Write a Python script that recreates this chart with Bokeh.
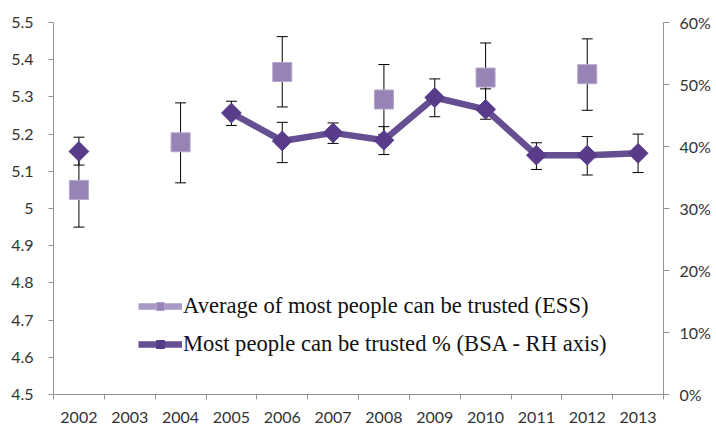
import math

from bokeh.embed import file_html
from bokeh.models import (ColumnDataSource, FixedTicker, Legend, LegendItem,
                          LinearAxis, Range1d, TeeHead, Whisker)
from bokeh.plotting import figure
from bokeh.resources import INLINE

nan = float("nan")

# Survey years (one category per year)
years = ["2002", "2003", "2004", "2005", "2006", "2007",
         "2008", "2009", "2010", "2011", "2012", "2013"]

# ESS: average score "most people can be trusted" (left axis) with CI bounds
ess_mean = [5.05, nan, 5.178, nan, 5.367, nan, 5.293, nan, 5.352, nan, 5.361, nan]
ess_low = [4.95, nan, 5.069, nan, 5.273, nan, 5.199, nan, 5.259, nan, 5.264, nan]
ess_high = [5.15, nan, 5.284, nan, 5.462, nan, 5.387, nan, 5.445, nan, 5.456, nan]

# BSA: % saying most people can be trusted (right axis) with CI bounds
bsa_pct = [39.2, nan, nan, 45.4, 40.9, 42.2, 41.0, 47.9, 46.0, 38.6, 38.6, 38.9]
bsa_low = [37.0, nan, nan, 43.4, 37.4, 40.5, 38.7, 44.8, 44.4, 36.3, 35.4, 35.8]
bsa_high = [41.5, nan, nan, 47.3, 43.9, 43.8, 43.2, 50.9, 49.3, 40.6, 41.6, 42.0]

left_ticks = [4.5, 4.6, 4.7, 4.8, 4.9, 5.0, 5.1, 5.2, 5.3, 5.4, 5.5]
left_labels = ["4.5", "4.6", "4.7", "4.8", "4.9", "5", "5.1", "5.2", "5.3", "5.4", "5.5"]
right_ticks = [0, 10, 20, 30, 40, 50, 60]
right_labels = ["0%", "10%", "20%", "30%", "40%", "50%", "60%"]

ess_label = "Average of most people can be trusted (ESS)"
bsa_label = "Most people can be trusted % (BSA - RH axis)"

# each year occupies one unit; points sit in the middle of their slot
x_pos = [i + 0.5 for i in range(len(years))]
slot_edges = list(range(len(years) + 1))

GRID = "#949494"
TICK_TEXT = "#333333"
ESS_FILL = "#9783b6"
ESS_EDGE = "#b4a5cd"
BSA_LINE = "#654f92"
BSA_MARK = "#583b89"
TICK_FONT = "Lato"
LEGEND_FONT = "Liberation Serif"

p = figure(width=716, height=425, output_backend="svg", toolbar_location=None,
           x_range=Range1d(0, len(years)), y_range=Range1d(4.5, 5.5),
           min_border_left=53, min_border_right=53, min_border_top=22,
           min_border_bottom=30, x_axis_type=None, y_axis_type=None)
p.extra_y_ranges = {"pct": Range1d(0, 60)}
p.outline_line_color = None
p.background_fill_color = "white"
p.border_fill_color = "white"

# left axis
yax = LinearAxis(ticker=FixedTicker(ticks=left_ticks),
                 major_label_overrides=dict(zip(left_ticks, left_labels)))
yax.axis_line_color = GRID
yax.major_tick_line_color = GRID
yax.major_tick_out = 5
yax.major_tick_in = 0
yax.minor_tick_line_color = None
yax.major_label_standoff = 15
yax.major_label_text_font = TICK_FONT
yax.major_label_text_font_size = "16px"
yax.major_label_text_color = TICK_TEXT
p.add_layout(yax, "left")

# right axis (percentages)
rax = LinearAxis(y_range_name="pct", ticker=FixedTicker(ticks=right_ticks),
                 major_label_overrides=dict(zip(right_ticks, right_labels)))
rax.axis_line_color = GRID
rax.major_tick_line_color = GRID
rax.major_tick_out = 6
rax.major_tick_in = 0
rax.minor_tick_line_color = None
rax.major_label_standoff = 10
rax.major_label_text_font = TICK_FONT
rax.major_label_text_font_size = "16px"
rax.major_label_text_color = TICK_TEXT
p.add_layout(rax, "right")

# bottom axis: labels centred on each year, tick marks between years
xax = LinearAxis(ticker=FixedTicker(ticks=x_pos, minor_ticks=slot_edges),
                 major_label_overrides=dict(zip(x_pos, years)))
xax.axis_line_color = GRID
xax.major_tick_line_color = None
xax.major_tick_out = 0
xax.major_tick_in = 0
xax.minor_tick_line_color = GRID
xax.minor_tick_out = 5
xax.minor_tick_in = 0
xax.major_label_standoff = 12
xax.major_label_text_font = TICK_FONT
xax.major_label_text_font_size = "16px"
xax.major_label_text_color = TICK_TEXT
p.add_layout(xax, "below")

p.ygrid.ticker = FixedTicker(ticks=left_ticks)
p.ygrid.grid_line_color = GRID
p.ygrid.grid_line_width = 1
p.xgrid.visible = False

# error bars
def ci_source(lo, hi):
    rows = [(x, a, b) for x, a, b in zip(x_pos, lo, hi) if not math.isnan(a)]
    return ColumnDataSource(dict(x=[r[0] for r in rows],
                                 lo=[r[1] for r in rows],
                                 hi=[r[2] for r in rows]))

for lo, hi, rng in ((ess_low, ess_high, "default"), (bsa_low, bsa_high, "pct")):
    w = Whisker(base="x", lower="lo", upper="hi", source=ci_source(lo, hi),
                y_range_name=rng, line_color="black", line_width=1,
                upper_head=TeeHead(size=11, line_color="black", line_width=1),
                lower_head=TeeHead(size=11, line_color="black", line_width=1))
    p.add_layout(w)

# BSA series (right axis)
bsa_line = p.line(x_pos, bsa_pct, y_range_name="pct", line_color=BSA_LINE,
                  line_width=6.5, line_join="round")
bsa_marks = p.scatter(x_pos, bsa_pct, y_range_name="pct", marker="square",
                      angle=math.pi / 4, size=14, fill_color=BSA_MARK,
                      line_color=BSA_MARK, line_width=1)

# ESS series (left axis), markers only
ess_marks = p.scatter(x_pos, ess_mean, marker="square", size=19,
                      fill_color=ESS_FILL, line_color=ESS_EDGE, line_width=1)
ess_key_line = p.line([nan], [nan], line_color="#a999c7", line_width=6.5)

legend = Legend(items=[LegendItem(label=ess_label, renderers=[ess_key_line, ess_marks]),
                       LegendItem(label=bsa_label, renderers=[bsa_line, bsa_marks])],
                location=(85, 37), orientation="vertical",
                background_fill_alpha=0, border_line_alpha=0,
                label_text_font=LEGEND_FONT, label_text_font_size="22.6px",
                label_text_color="#111111", glyph_width=44, glyph_height=20,
                spacing=12, padding=0, margin=0, label_standoff=1)
p.add_layout(legend)

open("out.html", "w").write(file_html(p, INLINE))
